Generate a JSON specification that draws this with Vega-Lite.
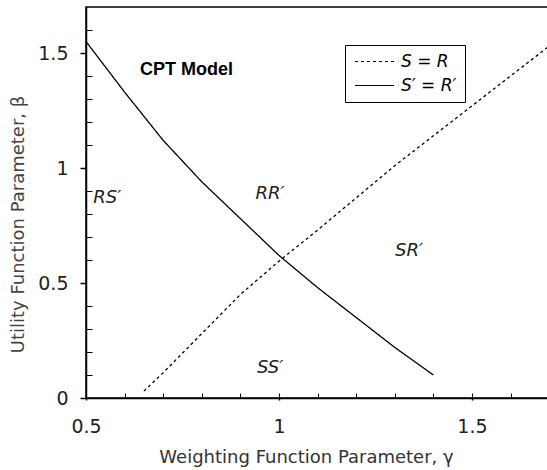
{
  "$schema": "https://vega.github.io/schema/vega-lite/v6.json",
  "width": 467,
  "height": 391,
  "autosize": "none",
  "padding": {"left": 86, "top": 7, "right": 0, "bottom": 72},
  "background": "white",
  "config": {"view": {"stroke": "black", "strokeWidth": 1.5}, "font": "DejaVu Sans"},
  "datasets": {
    "curves": [
      {"curve": "S = R", "gamma": 0.65, "beta": 0.03},
      {"curve": "S = R", "gamma": 0.7, "beta": 0.11},
      {"curve": "S = R", "gamma": 0.8, "beta": 0.28},
      {"curve": "S = R", "gamma": 0.9, "beta": 0.45},
      {"curve": "S = R", "gamma": 1.0, "beta": 0.595},
      {"curve": "S = R", "gamma": 1.1, "beta": 0.73},
      {"curve": "S = R", "gamma": 1.2, "beta": 0.87},
      {"curve": "S = R", "gamma": 1.3, "beta": 1.01},
      {"curve": "S = R", "gamma": 1.4, "beta": 1.14},
      {"curve": "S = R", "gamma": 1.5, "beta": 1.27},
      {"curve": "S = R", "gamma": 1.6, "beta": 1.40},
      {"curve": "S = R", "gamma": 1.7, "beta": 1.53},
      {"curve": "S′ = R′", "gamma": 0.5, "beta": 1.55},
      {"curve": "S′ = R′", "gamma": 0.6, "beta": 1.33},
      {"curve": "S′ = R′", "gamma": 0.7, "beta": 1.12},
      {"curve": "S′ = R′", "gamma": 0.8, "beta": 0.94},
      {"curve": "S′ = R′", "gamma": 0.9, "beta": 0.78},
      {"curve": "S′ = R′", "gamma": 1.0, "beta": 0.62},
      {"curve": "S′ = R′", "gamma": 1.1, "beta": 0.48},
      {"curve": "S′ = R′", "gamma": 1.2, "beta": 0.35},
      {"curve": "S′ = R′", "gamma": 1.3, "beta": 0.22},
      {"curve": "S′ = R′", "gamma": 1.4, "beta": 0.10}
    ],
    "regions": [
      {"gamma": 0.555, "beta": 0.87, "label": "RS′"},
      {"gamma": 0.977, "beta": 0.887, "label": "RR′"},
      {"gamma": 1.337, "beta": 0.64, "label": "SR′"},
      {"gamma": 0.977, "beta": 0.13, "label": "SS′"}
    ],
    "notes": [
      {"gamma": 0.64, "beta": 1.428, "label": "CPT Model"}
    ]
  },
  "layer": [
    {
      "data": {"name": "curves"},
      "mark": {"type": "line", "color": "black", "strokeWidth": 1.3},
      "encoding": {
        "x": {
          "field": "gamma", "type": "quantitative",
          "scale": {"domain": [0.5, 1.71], "nice": false, "zero": false},
          "axis": {
            "orient": "bottom", "values": [0.5, 1, 1.5], "format": "~g", "grid": false, "labelFlush": false,
            "domainColor": "black", "domainWidth": 1.5, "tickColor": "black", "tickWidth": 1.5, "tickSize": 2,
            "labelFont": "DejaVu Sans", "labelFontSize": 19, "labelColor": "#222", "labelPadding": 17,
            "title": "Weighting Function Parameter,  γ", "titleFont": "DejaVu Sans", "titleFontSize": 18,
            "titleFontWeight": "normal", "titleColor": "#333", "titleX": 220, "titleY": 64,
            "titleBaseline": "alphabetic", "titleAlign": "center"
          }
        },
        "y": {
          "field": "beta", "type": "quantitative",
          "scale": {"domain": [0, 1.7], "nice": false},
          "axis": {
            "orient": "left", "values": [0, 0.5, 1, 1.5], "format": "~g", "grid": false, "labelFlush": false,
            "domainColor": "black", "domainWidth": 1.5, "tickColor": "black", "tickWidth": 1.5, "tickSize": 6,
            "labelFont": "DejaVu Sans", "labelFontSize": 19, "labelColor": "#222", "labelPadding": 12,
            "title": "Utility Function Parameter, β", "titleFont": "DejaVu Sans", "titleFontSize": 18,
            "titleFontWeight": "normal", "titleColor": "#444", "titleX": -68, "titleY": 217,
            "titleBaseline": "middle", "titleAlign": "center", "titleAngle": 270
          }
        },
        "strokeDash": {
          "field": "curve", "type": "nominal",
          "scale": {"domain": ["S = R", "S′ = R′"], "range": [[3, 3], [1, 0]]},
          "legend": {
            "orient": "none", "legendX": 259, "legendY": 38, "title": null, "direction": "vertical",
            "symbolType": "M-1,0L5,0", "symbolSize": 169, "symbolStrokeColor": "black", "symbolStrokeWidth": 1.2,
            "labelFont": "DejaVu Sans", "labelFontSize": 17, "labelFontStyle": "italic", "labelColor": "black",
            "labelOffset": 31, "padding": 8, "rowPadding": 6,
            "strokeColor": "black", "fillColor": "white"
          }
        }
      }
    },
    {
      "data": {"name": "regions"},
      "mark": {"type": "text", "font": "DejaVu Sans", "fontSize": 18, "fontStyle": "italic", "color": "#222", "align": "center", "baseline": "middle"},
      "encoding": {
        "x": {
          "field": "gamma", "type": "quantitative",
          "axis": {
            "orient": "top", "offset": -391, "values": [0.5, 0.6, 0.7, 0.8, 0.9, 1, 1.1, 1.2, 1.3, 1.4, 1.5, 1.6, 1.7],
            "labels": false, "domain": false, "grid": false, "title": null,
            "tickColor": "black", "tickWidth": 1, "tickSize": 5
          }
        },
        "y": {
          "field": "beta", "type": "quantitative",
          "axis": {
            "orient": "right", "offset": -467, "values": [0.1, 0.2, 0.3, 0.4, 0.6, 0.7, 0.8, 0.9, 1.1, 1.2, 1.3, 1.4, 1.6],
            "labels": false, "domain": false, "grid": false, "title": null,
            "tickColor": "black", "tickWidth": 1, "tickSize": 6
          }
        },
        "text": {"field": "label", "type": "nominal"}
      }
    },
    {
      "data": {"name": "notes"},
      "mark": {"type": "text", "font": "Liberation Sans", "fontSize": 18, "fontWeight": "bold", "color": "black", "align": "left", "baseline": "middle"},
      "encoding": {
        "x": {"field": "gamma", "type": "quantitative", "axis": null},
        "y": {"field": "beta", "type": "quantitative", "axis": null},
        "text": {"field": "label", "type": "nominal"}
      }
    }
  ],
  "resolve": {"axis": {"x": "independent", "y": "independent"}}
}
